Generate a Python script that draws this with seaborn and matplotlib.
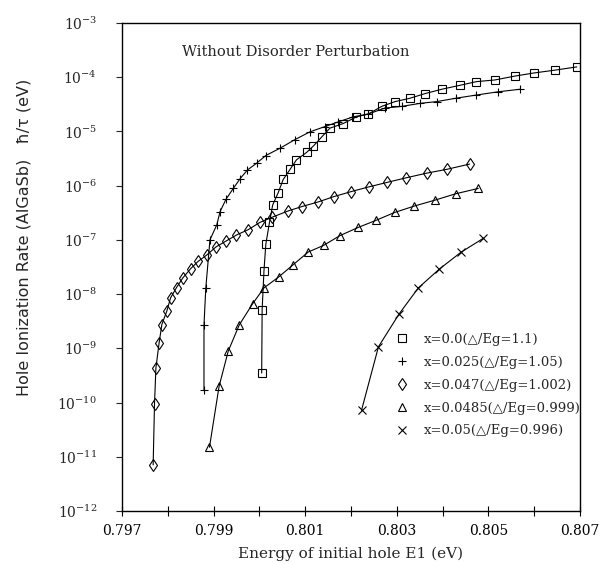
"""
Hole ionization rate vs initial hole energy for AlGaSb (no disorder perturbation)
"""

import numpy as np
import pandas as pd
import matplotlib
matplotlib.use('Agg')
import matplotlib.pyplot as plt
from matplotlib.lines import Line2D
from matplotlib.ticker import FixedLocator, NullLocator, LogFormatterSciNotation
import seaborn as sns

sns.set_style('ticks')
plt.rcParams['font.family'] = ['DejaVu Serif', 'DejaVu Sans']
plt.rcParams['mathtext.fontset'] = 'dejavuserif'

# x = 0.0 (squares)
e_x000 = [0.80005, 0.80006, 0.80010, 0.80014, 0.80022, 0.80029, 0.80041, 0.80052,
          0.80067, 0.80081, 0.80103, 0.80118, 0.80136, 0.80154, 0.80183, 0.80212,
          0.80238, 0.80267, 0.80296, 0.80329, 0.80362, 0.80398, 0.80438, 0.80474,
          0.80514, 0.80558, 0.80600, 0.80645, 0.80693]
rate_x000 = [3.5e-10, 5.2e-9, 2.7e-8, 8.3e-8, 2.1e-7, 4.4e-7, 7.4e-7, 1.3e-6,
             2.0e-6, 3.0e-6, 4.1e-6, 5.4e-6, 7.9e-6, 1.15e-5, 1.4e-5, 1.86e-5,
             2.1e-5, 2.9e-5, 3.55e-5, 4.1e-5, 5.0e-5, 6.0e-5, 7.1e-5, 8.3e-5,
             8.9e-5, 1.05e-4, 1.2e-4, 1.35e-4, 1.55e-4]

# x = 0.025 (plus)
e_x025 = [0.79879, 0.79879, 0.79883, 0.79892, 0.79907, 0.79914, 0.79927, 0.79943,
          0.79958, 0.79974, 0.79994, 0.80014, 0.80045, 0.80078, 0.80110, 0.80143,
          0.80172, 0.80205, 0.80238, 0.80274, 0.80311, 0.80351, 0.80387, 0.80429,
          0.80474, 0.80522, 0.80569]
rate_x025 = [1.7e-10, 2.7e-9, 1.3e-8, 1.0e-7, 1.9e-7, 3.3e-7, 5.6e-7, 8.9e-7,
             1.35e-6, 1.95e-6, 2.6e-6, 3.6e-6, 4.9e-6, 7.1e-6, 9.8e-6, 1.23e-5,
             1.5e-5, 1.86e-5, 2.1e-5, 2.7e-5, 2.9e-5, 3.3e-5, 3.55e-5, 4.1e-5,
             4.7e-5, 5.4e-5, 6.0e-5]

# x = 0.047 (diamonds)
e_x047 = [0.79768, 0.79771, 0.79774, 0.79781, 0.79787, 0.79798, 0.79806, 0.79819,
          0.79833, 0.79850, 0.79866, 0.79885, 0.79905, 0.79927, 0.79950, 0.79976,
          0.80001, 0.80027, 0.80062, 0.80092, 0.80128, 0.80163, 0.80201, 0.80239,
          0.80279, 0.80321, 0.80365, 0.80409, 0.80459]
rate_x047 = [7.1e-12, 9.5e-11, 4.3e-10, 1.26e-9, 2.75e-9, 4.9e-9, 8.5e-9, 1.32e-8,
             2.0e-8, 2.95e-8, 4.0e-8, 5.25e-8, 7.4e-8, 9.5e-8, 1.23e-7, 1.55e-7,
             2.1e-7, 2.6e-7, 3.4e-7, 4.1e-7, 5.0e-7, 6.3e-7, 7.8e-7, 9.5e-7,
             1.15e-6, 1.4e-6, 1.7e-6, 2.0e-6, 2.5e-6]

# x = 0.0485 (triangles)
e_x0485 = [0.79891, 0.79912, 0.79932, 0.79956, 0.79985, 0.80010, 0.80043, 0.80074,
           0.80107, 0.80140, 0.80176, 0.80216, 0.80255, 0.80295, 0.80338, 0.80383,
           0.80429, 0.80478]
rate_x0485 = [1.5e-11, 2.0e-10, 8.9e-10, 2.7e-9, 6.6e-9, 1.3e-8, 2.1e-8, 3.5e-8,
              6.0e-8, 7.9e-8, 1.2e-7, 1.7e-7, 2.3e-7, 3.2e-7, 4.2e-7, 5.4e-7,
              7.1e-7, 8.9e-7]

# x = 0.05 (crosses)
e_x050 = [0.80223, 0.80260, 0.80305, 0.80347, 0.80393, 0.80440, 0.80489]
rate_x050 = [7.2e-11, 1.07e-9, 4.3e-9, 1.3e-8, 2.9e-8, 5.9e-8, 1.07e-7]

series_labels = ['x=0.0(△/Eg=1.1)', 'x=0.025(△/Eg=1.05)', 'x=0.047(△/Eg=1.002)',
                 'x=0.0485(△/Eg=0.999)', 'x=0.05(△/Eg=0.996)']
series_markers = ['s', '+', 'd', '^', 'x']
series_data = [(e_x000, rate_x000), (e_x025, rate_x025), (e_x047, rate_x047),
               (e_x0485, rate_x0485), (e_x050, rate_x050)]

# tick positions
x_label_ticks = [0.797, 0.799, 0.801, 0.803, 0.805, 0.807]
x_minor_ticks = [0.798, 0.800, 0.802, 0.804, 0.806]
y_ticks = [1e-12, 1e-11, 1e-10, 1e-9, 1e-8, 1e-7, 1e-6, 1e-5, 1e-4, 1e-3]

fig = plt.figure(figsize=(6.14, 5.64), dpi=100)
ax = fig.add_axes([0.1987, 0.094, 0.7459, 0.8652])

handles = []
for (e, r), lab, mk in zip(series_data, series_labels, series_markers):
    df = pd.DataFrame({'E1': e, 'rate': r})
    sns.lineplot(data=df, x='E1', y='rate', ax=ax, color='black', linewidth=0.8,
                 sort=False, estimator=None, marker=mk, markersize=6,
                 markerfacecolor='none', markeredgecolor='black', markeredgewidth=0.8)
    handles.append(Line2D([], [], linestyle='none', marker=mk, markersize=6,
                          markerfacecolor='none', markeredgecolor='black',
                          markeredgewidth=0.8, label=lab))

ax.set_yscale('log')
ax.set_xlim(0.797, 0.807)
ax.set_ylim(1e-12, 1e-3)

# ticks
ax.xaxis.set_major_locator(FixedLocator(x_label_ticks))
ax.xaxis.set_minor_locator(FixedLocator(x_minor_ticks))
ax.set_xticklabels([f'{v:.3f}' for v in x_label_ticks])
ax.tick_params(axis='x', which='both', direction='inout', length=7, width=0.8,
               labelsize=10, pad=6, colors='black')
ax.yaxis.set_major_locator(FixedLocator(y_ticks))
ax.yaxis.set_major_formatter(LogFormatterSciNotation())
ax.yaxis.set_minor_locator(NullLocator())
ax.tick_params(axis='y', which='major', direction='out', length=4, width=0.8,
               labelsize=10, pad=14)

for sp in ax.spines.values():
    sp.set_linewidth(1.0)
    sp.set_color('black')

ax.set_xlabel('Energy of initial hole E1 (eV)', fontsize=11, labelpad=6)
ax.set_ylabel('Hole Ionization Rate (AlGaSb)   ħ/τ (eV)', fontsize=11.5,
              family=['DejaVu Sans'])
ax.yaxis.set_label_coords(-0.197, 0.56)

ax.text(0.13, 0.94, 'Without Disorder Perturbation', transform=ax.transAxes,
        fontsize=10.5, va='center', ha='left')

leg = ax.legend(handles=handles, loc='upper left', bbox_to_anchor=(0.596, 0.365),
                frameon=False, fontsize=9.5, borderpad=0, handlelength=1.0,
                handletextpad=1.2, labelspacing=0.75, borderaxespad=0)

fig.savefig('out.png', dpi=100)
